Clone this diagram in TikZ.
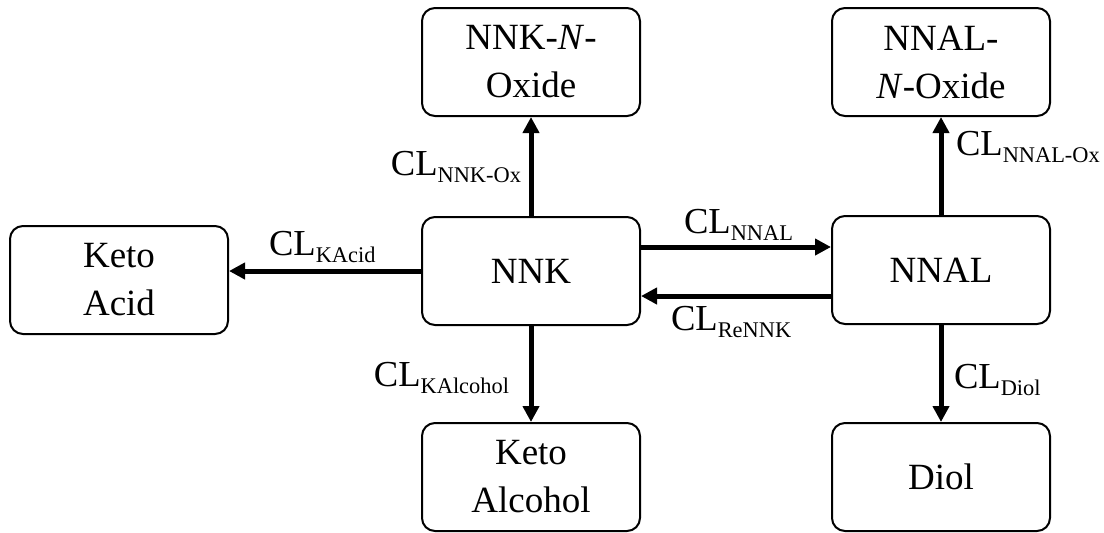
\documentclass[tikz,border=0pt]{standalone}
\usepackage{fontspec}
\setmainfont{Liberation Serif}
\usetikzlibrary{arrows.meta}
\newcommand{\clsub}[1]{CL\raisebox{-3.5pt}{\fontsize{11.2}{12}\selectfont #1}}

\begin{document}
\begin{tikzpicture}[x=0.5pt,y=-0.5pt,line width=1pt,
    box/.style={draw, rounded corners=6.5pt, minimum width=109pt, minimum height=54pt,
      align=center, font=\fontsize{18.5}{24}\selectfont},
    flow/.style={line width=2.5pt, -{Triangle[length=8pt,width=8pt]}},
    rate/.style={inner sep=0pt, font=\fontsize{18.3}{24}\selectfont}]
    \useasboundingbox (0,0) rectangle (1104,532);
    % compartments
    \node[box] (kacid)  at (119,280) {Keto\\Acid};
    \node[box] (nnk)    at (531,271) {NNK};
    \node[box] (nnal)   at (941,270) {NNAL};
    \node[box] (nnkox)  at (531,62)  {NNK-\textit{N}-\\Oxide};
    \node[box] (nnalox) at (941,62)  {NNAL-\\\textit{N}-Oxide};
    \node[box] (kalc)   at (531,477) {Keto\\Alcohol};
    \node[box] (diol)   at (941,477) {Diol};
    % clearances
    \draw[flow] (nnk.north) -- (nnkox.south);
    \draw[flow] (nnal.north) -- (nnalox.south);
    \draw[flow] (nnk.west) -- (kacid.east |- nnk.west);
    \draw[flow] (nnk.east |- 0,247) -- (nnal.west |- 0,247);
    \draw[flow] (nnal.west |- 0,296) -- (nnk.east |- 0,296);
    \draw[flow] (nnk.south) -- (kalc.north);
    \draw[flow] (nnal.south) -- (diol.north);
    % labels
    \node[rate, anchor=base east] (lnnkox)  at (522,175) {\clsub{NNK-Ox}};
    \node[rate, anchor=base west] (lnnalox) at (955,155) {\clsub{NNAL-Ox}};
    \node[rate, anchor=base west] (lkacid)  at (268,255) {\clsub{KAcid}};
    \node[rate, anchor=base west] (lnnal)   at (683,233) {\clsub{NNAL}};
    \node[rate, anchor=base west] (lrennk)  at (670,330) {\clsub{ReNNK}};
    \node[rate, anchor=base east] (lkalc)   at (510,386) {\clsub{KAlcohol}};
    \node[rate, anchor=base west] (ldiol)   at (953,388) {\clsub{Diol}};
\end{tikzpicture}
\end{document}
